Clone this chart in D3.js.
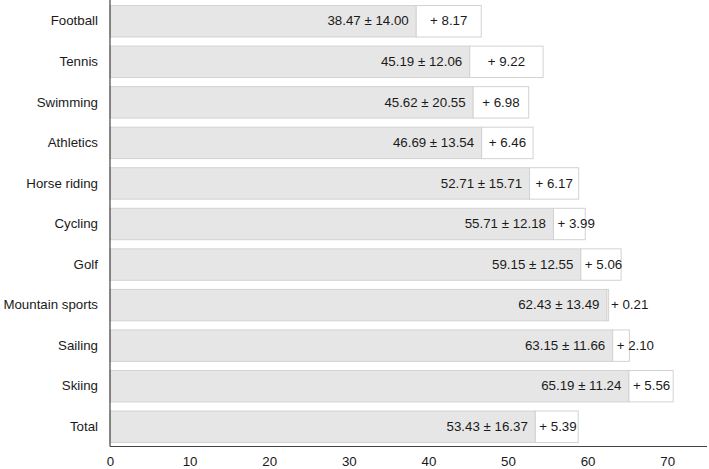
<!DOCTYPE html>
<html>
<head>
<meta charset="utf-8">
<script src="https://cdn.jsdelivr.net/npm/d3@7"></script>
<style>
  body { margin: 0; background: #fff; }
  svg { display: block; font-family: "Liberation Sans", Arial, sans-serif; }
</style>
</head>
<body>
<div id="showBox"></div>
<script>
const categories = ["Football", "Tennis", "Swimming", "Athletics", "Horse riding", "Cycling",
    "Golf", "Mountain sports", "Sailing", "Skiing", "Total"];
const means = [38.47, 45.19, 45.62, 46.69, 52.71, 55.71, 59.15, 62.43, 63.15, 65.19, 53.43];
const sds = [14.00, 12.06, 20.55, 13.54, 15.71, 12.18, 12.55, 13.49, 11.66, 11.24, 16.37];
const extra = [8.17, 9.22, 6.98, 6.46, 6.17, 3.99, 5.06, 0.21, 2.10, 5.56, 5.39];
const xTicks = [0, 10, 20, 30, 40, 50, 60, 70];

const width = 709, height = 469;
const mLeft = 110, mRight = 707, mTop = 0, mBottom = 446.5;
const fs = 13.3;

const data = categories.map((c, i) => ({name: c, mean: means[i], sd: sds[i], extra: extra[i]}));

const svg = d3.select("#showBox").append("svg")
    .attr("width", width)
    .attr("height", height);

const x = d3.scaleLinear().domain([0, 75]).range([mLeft, mRight]);
const y = d3.scaleBand().domain(categories).range([mTop + 1, mBottom - 0.5])
    .paddingInner(0.225).paddingOuter(0.1);

const rows = svg.append("g").selectAll("g")
    .data(data)
    .join("g");

// grey part = mean
rows.append("rect")
    .attr("x", x(0))
    .attr("y", d => y(d.name) + 0.5)
    .attr("width", d => x(d.mean) - x(0))
    .attr("height", y.bandwidth())
    .attr("fill", "#e6e6e6")
    .attr("stroke", "#d2d2d2");

// white part = extra
rows.append("rect")
    .attr("x", d => x(d.mean))
    .attr("y", d => y(d.name) + 0.5)
    .attr("width", d => x(d.mean + d.extra) - x(d.mean))
    .attr("height", y.bandwidth())
    .attr("fill", "#fff")
    .attr("stroke", "#d2d2d2");

rows.append("text")
    .attr("x", d => x(d.mean) - 7.5)
    .attr("y", d => y(d.name) + y.bandwidth() / 2)
    .attr("dy", "0.35em")
    .attr("text-anchor", "end")
    .attr("font-size", fs)
    .attr("fill", "#1a1a1a")
    .text(d => `${d.mean.toFixed(2)} ± ${d.sd.toFixed(2)}`);

rows.append("text")
    .attr("y", d => y(d.name) + y.bandwidth() / 2)
    .attr("dy", "0.35em")
    .attr("font-size", fs)
    .attr("fill", "#1a1a1a")
    .text(d => `+ ${d.extra.toFixed(2)}`)
    .attr("x", function (d) {
        const w = this.getComputedTextLength();
        const mid = (x(d.mean) + x(d.mean + d.extra)) / 2;
        return Math.max(mid - w / 2, x(d.mean) + 4);
    });

// category labels
svg.append("g")
    .attr("text-anchor", "end")
    .attr("font-size", fs)
    .attr("fill", "#1a1a1a")
    .selectAll("text")
    .data(categories)
    .join("text")
    .attr("x", mLeft - 12)
    .attr("y", d => y(d) + y.bandwidth() / 2)
    .attr("dy", "0.35em")
    .text(d => d);

// axes
svg.append("line")
    .attr("x1", mLeft).attr("x2", mLeft)
    .attr("y1", mTop).attr("y2", mBottom)
    .attr("stroke", "#444").attr("stroke-width", 1.2);

const xAxis = svg.append("g")
    .attr("transform", `translate(0,${mBottom})`)
    .call(d3.axisBottom(x).tickValues(xTicks).tickSize(0).tickPadding(10));
xAxis.select(".domain").attr("stroke", "#444").attr("stroke-width", 1.2)
    .attr("d", `M${mLeft},0H${mRight}`);
xAxis.selectAll("text")
    .attr("font-size", fs)
    .attr("font-family", "Liberation Sans, Arial, sans-serif")
    .attr("fill", "#1a1a1a");
</script>
</body>
</html>
